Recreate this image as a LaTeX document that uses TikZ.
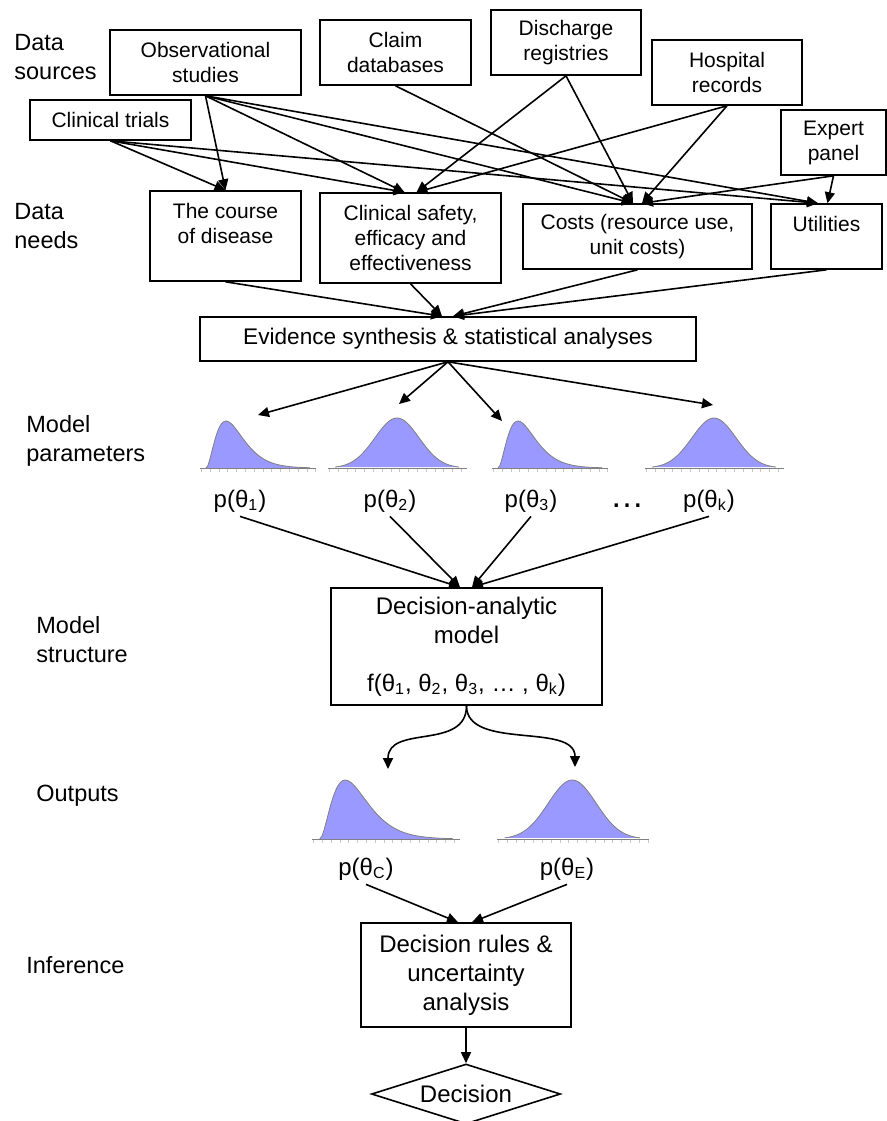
\documentclass[tikz,border=0pt]{standalone}
\usepackage{fontspec}
\setmainfont{Liberation Sans}
\usepackage{xcolor}
\usepackage{tikz}
\usetikzlibrary{arrows.meta, shapes.geometric, calc}
\definecolor{distfill}{RGB}{153,153,255}
\tikzset{srcbox/.style={draw, line width=0.8pt, align=center, inner sep=0pt, font=\fontsize{10.5}{12.5}\selectfont}}
\tikzset{bigbox/.style={srcbox, font=\fontsize{12}{14.5}\selectfont}}
\tikzset{rowlabel/.style={anchor=west, align=left, inner sep=0pt, font=\fontsize{11.75}{14.5}\selectfont}}
\tikzset{plabel/.style={anchor=base, inner sep=2pt, font=\fontsize{12}{14.5}\selectfont}}
\tikzset{arr/.style={-{Triangle[length=5.5pt,width=5pt]}, line width=0.8pt}}
%skewed and bell shaped densities, origin at left end of the axis
\tikzset{skewdist/.pic={
 \fill[distfill] (6,0) -- plot[domain=0:104,samples=60] ({6+\x},{-47*(\x/20)^2*exp(2-\x/10)}) -- (110,0) -- cycle;
 \draw[gray, line width=0.4pt] plot[domain=0:104,samples=60] ({6+\x},{-47*(\x/20)^2*exp(2-\x/10)});
 \draw[gray, line width=0.5pt] (0,0) -- (116,0);
 \draw[gray!45, line width=1.5pt, dash pattern=on 0.4pt off 4pt] (1,2) -- (116,2);
}}
\tikzset{belldist/.pic={
 \fill[distfill] plot[domain=-62:62,samples=60] ({69+\x},{-50*exp(-(\x)*(\x)/968)}) -- cycle;
 \draw[gray, line width=0.4pt] plot[domain=-62:62,samples=60] ({69+\x},{-50*exp(-(\x)*(\x)/968)});
 \draw[gray, line width=0.5pt] (0,0) -- (139,0);
 \draw[gray!45, line width=1.5pt, dash pattern=on 0.4pt off 4pt] (1,2) -- (139,2);
}}

\begin{document}
\begin{tikzpicture}[x=0.5pt,y=-0.5pt]
 \useasboundingbox (0,0) rectangle (887,1121);

 %Row labels
 \node[rowlabel] (lblsources) at (14,57.5) {Data\\sources};
 \node[rowlabel] (lblneeds) at (14,226) {Data\\needs};
 \node[rowlabel] (lblparams) at (26,441) {Model\\parameters};
 \node[rowlabel] (lblstructure) at (36,640) {Model\\structure};
 \node[rowlabel] (lbloutputs) at (36,796) {Outputs};
 \node[rowlabel] (lblinference) at (26,965) {Inference};

 %Data sources
 \node[srcbox, minimum width=95.5pt, minimum height=32.5pt] (obs) at (205.5,62.5) {Observational\\studies};
 \node[srcbox, minimum width=80.5pt, minimum height=20pt] (trials) at (110.5,120) {Clinical trials};
 \node[srcbox, minimum width=75.5pt, minimum height=32.5pt] (claim) at (395.5,52.5) {Claim\\databases};
 \node[srcbox, minimum width=75pt, minimum height=32.5pt] (discharge) at (566,42.5) {Discharge\\registries};
 \node[srcbox, minimum width=75pt, minimum height=32.5pt] (hospital) at (727,72.5) {Hospital\\records};
 \node[srcbox, minimum width=52.5pt, minimum height=32.5pt] (expert) at (833.5,142.5) {Expert\\panel};

 %Data needs
 \node[srcbox, minimum width=75.5pt, minimum height=45pt] (course) at (225.5,236) {The course\\of disease\\\mbox{}};
 \node[srcbox, minimum width=90.5pt, minimum height=45pt] (safety) at (410.5,238) {Clinical safety,\\efficacy and\\effectiveness};
 \node[srcbox, minimum width=114.5pt, minimum height=32.5pt] (costs) at (637.5,236.5) {Costs (resource use,\\unit costs)};
 \node[srcbox, minimum width=55.5pt, minimum height=32.5pt] (utilities) at (826.5,236.5) {Utilities\\\mbox{}};

 \draw[arr] (obs.south) -- (course.north);
 \draw[arr] (trials.south) -- (course.north);
 \draw[arr] (obs.south) -- ([xshift=-3pt]safety.north);
 \draw[arr] (trials.south) -- ([xshift=-3pt]safety.north);
 \draw[arr] (discharge.south) -- ([xshift=3pt]safety.north);
 \draw[arr] (hospital.south) -- ([xshift=3pt]safety.north);
 \draw[arr] (obs.south) -- ([xshift=-2.25pt]costs.north);
 \draw[arr] (claim.south) -- ([xshift=-2.25pt]costs.north);
 \draw[arr] (discharge.south) -- ([xshift=-2.25pt]costs.north);
 \draw[arr] (hospital.south) -- ([xshift=2.25pt]costs.north);
 \draw[arr] (expert.south) -- ([xshift=2.25pt]costs.north);
 \draw[arr] (obs.south) -- ([xshift=-4.25pt]utilities.north);
 \draw[arr] (trials.south) -- ([xshift=-4.25pt]utilities.north);
 \draw[arr] (expert.south) -- ([xshift=0.5pt]utilities.north);

 %Evidence synthesis
 \node[srcbox, font=\fontsize{11.3}{13.5}\selectfont, minimum width=248pt, minimum height=22pt] (synthesis) at (448,339) {Evidence synthesis \& statistical analyses};
 \draw[arr] (course.south) -- ([xshift=-3pt]synthesis.north);
 \draw[arr] (safety.south) -- ([xshift=-3pt]synthesis.north);
 \draw[arr] (costs.south) -- ([xshift=2.5pt]synthesis.north);
 \draw[arr] (utilities.south) -- ([xshift=2.5pt]synthesis.north);

 %Model parameters
 \pic at (200,468) {skewdist};
 \pic at (328,468) {belldist};
 \pic at (492,468) {skewdist};
 \pic at (645,468) {belldist};
 \coordinate (t1in) at (258,415);
 \coordinate (t2in) at (399,404);
 \coordinate (t3in) at (502,421);
 \coordinate (tkin) at (713,405);
 \draw[arr] (synthesis.south) -- (t1in);
 \draw[arr] (synthesis.south) -- (t2in);
 \draw[arr] (synthesis.south) -- (t3in);
 \draw[arr] (synthesis.south) -- (tkin);

 \node[plabel] (p1) at (240,507) {p(θ\textsubscript{1})};
 \node[plabel] (p2) at (390,507) {p(θ\textsubscript{2})};
 \node[plabel] (p3) at (531,507) {p(θ\textsubscript{3})};
 \node[plabel, font=\fontsize{17}{20}\selectfont] (pdots) at (627,507) {…};
 \node[plabel] (pk) at (709,507) {p(θ\textsubscript{k})};

 %Model structure
 \node[bigbox, minimum width=135.5pt, minimum height=58.5pt] (model) at (466.5,646.5) {Decision-analytic\\model\\[9.5pt]f(θ\textsubscript{1}, θ\textsubscript{2}, θ\textsubscript{3}, … , θ\textsubscript{k})};
 \draw[arr] (p1.south) -- ([xshift=-3.25pt]model.north);
 \draw[arr] (p2.south) -- ([xshift=-3.25pt]model.north);
 \draw[arr] (p3.south) -- ([xshift=2.75pt]model.north);
 \draw[arr] (pk.south) -- ([xshift=2.75pt]model.north);

 %Outputs
 \pic[xscale=1.28, yscale=1.255] at (312,839) {skewdist};
 \pic[xscale=1.09, yscale=1.18] at (497,839) {belldist};
 \coordinate (cin) at (388,769);
 \coordinate (ein) at (575,767);
 \draw[arr] (model.south) .. controls +(0,45) and +(0,-45) .. (cin);
 \draw[arr] (model.south) .. controls +(0,45) and +(0,-45) .. (ein);
 \node[plabel] (pc) at (366,875) {p(θ\textsubscript{C})};
 \node[plabel] (pe) at (567,875) {p(θ\textsubscript{E})};

 %Inference
 \node[bigbox, minimum width=105pt, minimum height=52pt] (rules) at (466,975) {Decision rules \&\\uncertainty\\analysis};
 \draw[arr] (pc.south) -- ([xshift=-4pt]rules.north);
 \draw[arr] (pe.south) -- ([xshift=3pt]rules.north);
 \node[bigbox, diamond, aspect=3.15, minimum width=94.5pt, minimum height=30pt] (decision) at (466,1094) {Decision};
 \draw[arr] (rules.south) -- (decision.north);

\end{tikzpicture}
\end{document}
